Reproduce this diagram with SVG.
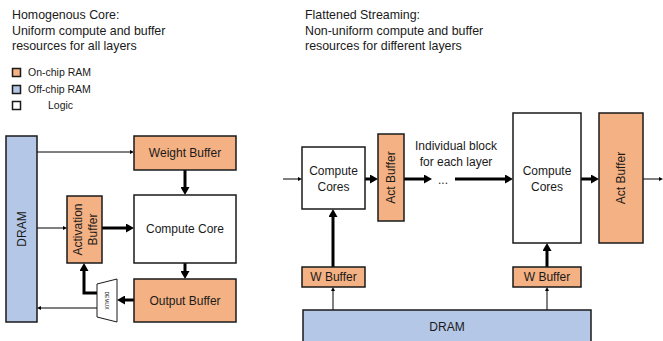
<svg xmlns="http://www.w3.org/2000/svg" width="663" height="341" viewBox="0 0 663 341">
<style>
text{font-family:"Liberation Sans",Arial,sans-serif;fill:#1a1a1a}
.t{font-size:12.4px}
.lg{font-size:10.5px}
.n{font-size:12px;text-anchor:middle;dominant-baseline:central}
.on{fill:#F4B183;stroke:#1a1a1a;stroke-width:1.5}
.off{fill:#B4C7E7;stroke:#1a1a1a;stroke-width:1.5}
.lo{fill:#ffffff;stroke:#1a1a1a;stroke-width:1.5}
.thick{fill:none;stroke:#000;stroke-width:3;marker-end:url(#ah)}
.thin{fill:none;stroke:#000;stroke-width:1;marker-end:url(#as)}
</style>
<defs>
<marker id="ah" viewBox="0 0 8 9" refX="2" refY="4.5" markerWidth="8" markerHeight="9" markerUnits="userSpaceOnUse" orient="auto"><path d="M0,0 L8,4.5 L0,9 z" fill="#000"/></marker>
<marker id="as" viewBox="0 0 4 4" refX="1" refY="2" markerWidth="4" markerHeight="4" markerUnits="userSpaceOnUse" orient="auto"><path d="M0,0 L4,2 L0,4 z" fill="#000"/></marker>
</defs>
<rect width="663" height="341" fill="#ffffff"/>

<g id="title-left">
<text class="t" x="12" y="19">Homogenous Core:</text>
<text class="t" x="12" y="34.5">Uniform compute and buffer</text>
<text class="t" x="12" y="50">resources for all layers</text>
</g>
<g id="title-right">
<text class="t" x="305" y="19">Flattened Streaming:</text>
<text class="t" x="305" y="34.5">Non-uniform compute and buffer</text>
<text class="t" x="305" y="50">resources for different layers</text>
</g>
<g id="legend">
<rect class="on" x="12.5" y="68.5" width="8" height="8"/>
<text class="lg" x="28" y="76">On-chip RAM</text>
<rect class="off" x="12.5" y="85.5" width="8" height="8"/>
<text class="lg" x="28" y="93">Off-chip RAM</text>
<rect class="lo" x="12.5" y="101.5" width="8" height="8"/>
<text class="lg" x="48" y="109">Logic</text>
</g>

<g id="connectors">
<path class="thin" d="M37,152 H131"/>
<path class="thin" d="M37,228 H64"/>
<path class="thick" d="M102,228 H128"/>
<path class="thick" d="M185,170 V189"/>
<path class="thick" d="M185,263 V273"/>
<path class="thick" d="M134,300 H123"/>
<path class="thick" d="M97,293 H84 V269"/>
<path class="thin" d="M97,308 H40"/>
<path class="thin" d="M283,179 H299"/>
<path class="thick" d="M365,179 H372"/>
<path class="thick" d="M404,179 H426"/>
<path class="thick" d="M455,179 H507"/>
<path class="thick" d="M581,179 H593"/>
<path class="thin" d="M643,179 H660"/>
<path class="thick" d="M333,267 V215"/>
<path class="thin" d="M333,310 V290"/>
<path class="thick" d="M547,267 V249"/>
<path class="thin" d="M547,310 V290"/>
</g>

<g id="dram-left">
<rect class="off" x="6" y="136" width="31" height="186"/>
<text class="n" transform="translate(21.5,229) rotate(-90)">DRAM</text>
</g>
<g id="weight-buffer">
<rect class="on" x="134" y="136" width="102" height="34"/>
<text class="n" x="185" y="153">Weight Buffer</text>
</g>
<g id="compute-core">
<rect class="lo" x="134" y="195" width="102" height="68"/>
<text class="n" x="185" y="229">Compute Core</text>
</g>
<g id="output-buffer">
<rect class="on" x="134" y="279" width="102" height="43"/>
<text class="n" x="185" y="300.5">Output Buffer</text>
</g>
<g id="activation-buffer">
<rect class="on" x="67" y="196" width="35" height="67"/>
<text class="n" transform="translate(78,229.5) rotate(-90)">Activation</text>
<text class="n" transform="translate(93,229.5) rotate(-90)">Buffer</text>
</g>
<g id="demux">
<polygon class="lo" points="97,284 117,279 117,322 97,317" style="stroke-width:1"/>
<text transform="translate(107,300.5) rotate(90)" style="font-size:5px;text-anchor:middle;dominant-baseline:central">DEMUX</text>
</g>

<g id="compute-cores-1">
<rect class="lo" x="302" y="147" width="63" height="62"/>
<text class="n" x="333.5" y="171">Compute</text>
<text class="n" x="333.5" y="187">Cores</text>
</g>
<g id="act-buffer-1">
<rect class="on" x="378" y="134" width="26" height="87"/>
<text class="n" transform="translate(391,177.5) rotate(-90)">Act Buffer</text>
</g>
<g id="w-buffer-1">
<rect class="on" x="302" y="267" width="63" height="20"/>
<text class="n" x="333.5" y="277">W Buffer</text>
</g>
<g id="individual-label">
<text class="n" x="456" y="146">Individual block</text>
<text class="n" x="456" y="162">for each layer</text>
<text class="n" x="443" y="180">...</text>
</g>
<g id="compute-cores-2">
<rect class="lo" x="513" y="113" width="68" height="130"/>
<text class="n" x="547" y="171">Compute</text>
<text class="n" x="547" y="187">Cores</text>
</g>
<g id="act-buffer-2">
<rect class="on" x="599" y="113" width="44" height="130"/>
<text class="n" transform="translate(621,178) rotate(-90)">Act Buffer</text>
</g>
<g id="w-buffer-2">
<rect class="on" x="513" y="267" width="68" height="20"/>
<text class="n" x="547" y="277">W Buffer</text>
</g>
<g id="dram-right">
<rect class="off" x="303" y="310" width="288" height="40"/>
<text class="n" x="447" y="327">DRAM</text>
</g>
</svg>
